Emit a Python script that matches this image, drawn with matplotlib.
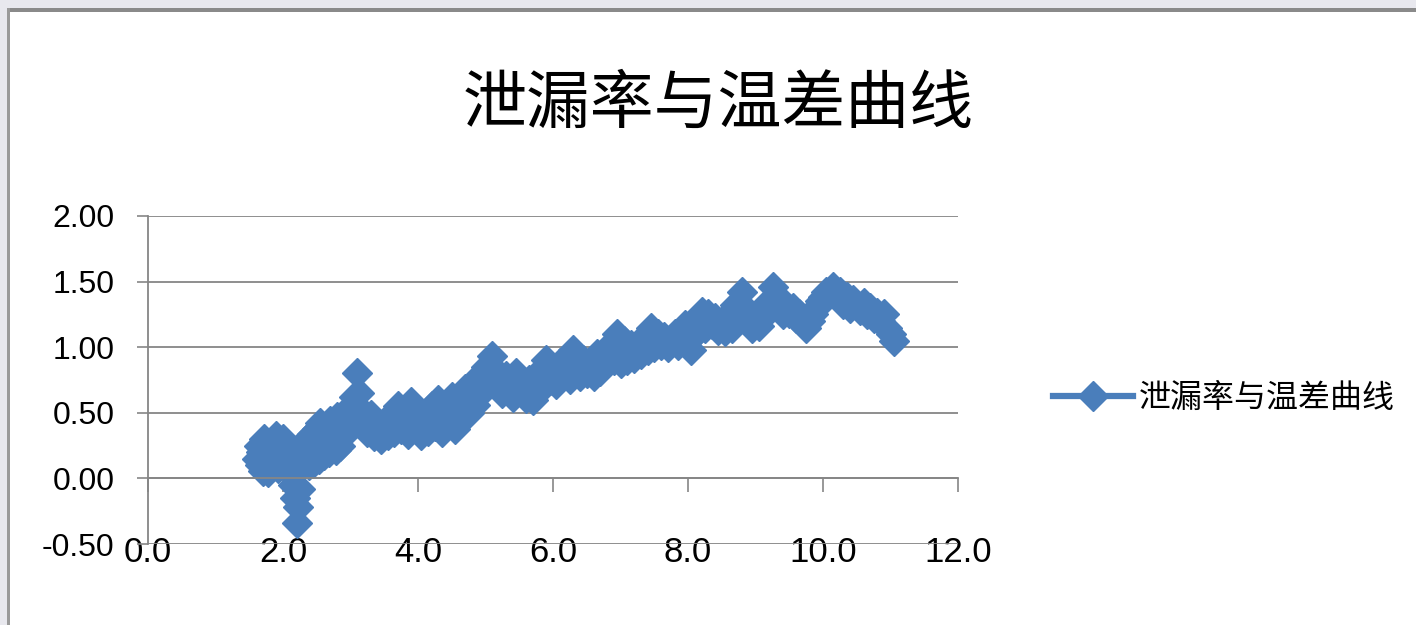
import matplotlib
matplotlib.use("Agg")
import matplotlib.pyplot as plt
from matplotlib.patches import Rectangle

plt.rcParams['font.family'] = ['Noto Sans CJK SC', 'DejaVu Sans']

TITLE = "泄漏率与温差曲线"
SERIES_NAME = "泄漏率与温差曲线"

# temperature difference (x) and leak rate (y)
temp_diff = [
    1.62, 1.64, 1.66, 1.68, 1.70, 1.72, 1.75, 1.78, 1.80, 1.82, 1.85, 1.88,
    1.90, 1.92, 1.95, 1.98, 2.00, 2.02, 2.05, 2.08, 2.10, 2.12,
    2.15, 2.18, 2.20, 2.22, 2.25, 2.28, 2.30,
    2.33, 2.35, 2.38, 2.40, 2.43, 2.45, 2.48, 2.50, 2.53, 2.55, 2.58, 2.60,
    2.63, 2.65, 2.68, 2.70, 2.73, 2.75, 2.78, 2.80, 2.83, 2.85, 2.88, 2.90,
    2.95, 3.00, 3.05, 3.10, 3.12, 3.15,
    3.20, 3.25, 3.30, 3.35, 3.40, 3.45, 3.50, 3.55, 3.60,
    3.65, 3.70, 3.75, 3.80, 3.85, 3.90, 3.95, 4.00, 4.05, 4.10, 4.15, 4.20,
    4.25, 4.30, 4.35, 4.40, 4.45, 4.50, 4.55, 4.60, 4.65, 4.70,
    4.75, 4.80, 4.85, 4.90, 4.95, 5.00, 5.05, 5.10, 5.15,
    5.20, 5.25, 5.30, 5.35, 5.40, 5.45, 5.50, 5.55, 5.60, 5.65, 5.70,
    5.75, 5.80, 5.85, 5.90, 5.95, 6.00, 6.05, 6.10, 6.15, 6.20, 6.25, 6.30,
    6.35, 6.40, 6.45, 6.50, 6.55, 6.60, 6.65, 6.70, 6.75, 6.80, 6.85, 6.90,
    6.95, 7.00,
    7.05, 7.10, 7.15, 7.20, 7.25, 7.30, 7.35, 7.40, 7.45, 7.50,
    7.55, 7.60, 7.65, 7.70, 7.75, 7.80, 7.85, 7.90, 7.95, 8.00, 8.05, 8.10,
    8.15, 8.20, 8.25, 8.30, 8.35, 8.40, 8.45, 8.50, 8.55, 8.60, 8.65, 8.70,
    8.75, 8.80, 8.85,
    8.90, 8.95, 9.00, 9.05, 9.10, 9.15, 9.20, 9.26, 9.30,
    9.35, 9.40, 9.45, 9.50, 9.55, 9.60, 9.65, 9.70, 9.75, 9.80, 9.85, 9.90,
    9.95, 10.00, 10.05, 10.15,
    10.20, 10.25, 10.30, 10.35, 10.40, 10.45, 10.50, 10.55, 10.60, 10.65,
    10.70, 10.75, 10.80, 10.85, 10.90, 10.95, 11.00, 11.05,
]
leak_rate = [
    0.15, 0.25, 0.10, 0.20, 0.06, 0.30, 0.12, 0.05, 0.22, 0.28, 0.10, 0.18,
    0.32, 0.08, 0.25, 0.12, 0.30, 0.20, 0.08, 0.24, 0.14, 0.05,
    -0.05, -0.15, -0.34, -0.22, -0.08, 0.10, 0.22,
    0.12, 0.30, 0.10, 0.22, 0.34, 0.12, 0.28, 0.38, 0.15, 0.42, 0.25, 0.18,
    0.40, 0.30, 0.20, 0.44, 0.26, 0.35, 0.22, 0.47, 0.30, 0.25, 0.40, 0.45,
    0.35, 0.55, 0.62, 0.80, 0.65, 0.52,
    0.45, 0.35, 0.48, 0.32, 0.42, 0.30, 0.40, 0.33, 0.48,
    0.35, 0.55, 0.38, 0.50, 0.34, 0.58, 0.40, 0.52, 0.33, 0.45, 0.36, 0.55,
    0.40, 0.60, 0.35, 0.55, 0.42, 0.62, 0.38, 0.58, 0.45, 0.68,
    0.50, 0.72, 0.56, 0.78, 0.66, 0.85, 0.76, 0.93, 0.82,
    0.72, 0.65, 0.78, 0.68, 0.62, 0.80, 0.70, 0.74, 0.61, 0.75, 0.60,
    0.68, 0.82, 0.70, 0.90, 0.75, 0.82, 0.72, 0.88, 0.78, 0.85, 0.76, 0.98,
    0.85, 0.78, 0.90, 0.80, 0.87, 0.78, 0.95, 0.82, 0.92, 0.88, 1.02, 0.90,
    1.10, 0.88,
    1.05, 0.90, 1.02, 0.92, 1.00, 0.95, 1.08, 0.98, 1.15, 1.00,
    1.10, 1.02, 1.08, 1.00, 1.05, 1.10, 1.02, 1.12, 1.17, 1.05, 0.98, 1.10,
    1.20, 1.27, 1.15, 1.25, 1.18, 1.22, 1.13, 1.20, 1.12, 1.23, 1.15, 1.32,
    1.25, 1.42, 1.30,
    1.22, 1.15, 1.20, 1.16, 1.22, 1.28, 1.35, 1.46, 1.38,
    1.30, 1.25, 1.32, 1.26, 1.30, 1.22, 1.25, 1.18, 1.15, 1.20, 1.25, 1.30,
    1.35, 1.38, 1.42, 1.46,
    1.38, 1.42, 1.33, 1.38, 1.30, 1.36, 1.32, 1.28, 1.34, 1.25,
    1.30, 1.22, 1.26, 1.20, 1.25, 1.15, 1.10, 1.05,
]

x_ticks = [0, 2, 4, 6, 8, 10, 12]
y_ticks = [-0.5, 0.0, 0.5, 1.0, 1.5, 2.0]

BLUE = '#4a7ebb'
GRID = '#868686'
W, H = 1416, 625
NUM_FONT = ['Liberation Sans', 'DejaVu Sans']

fig = plt.figure(figsize=(W / 100, H / 100), dpi=100, facecolor='white')

# screenshot frame: light strip and gray border at top and left
fig.add_artist(Rectangle((0, 1 - 8 / H), 1, 8 / H, transform=fig.transFigure,
                         facecolor='#e8e8ee', edgecolor='none'))
fig.add_artist(Rectangle((0, 0), 7 / W, 1, transform=fig.transFigure,
                         facecolor='#e8e8ee', edgecolor='none'))
fig.add_artist(Rectangle((7 / W, 1 - 12 / H), 1, 4 / H, transform=fig.transFigure,
                         facecolor='#8a8a8a', edgecolor='none'))
fig.add_artist(Rectangle((7 / W, 0), 3 / W, 1 - 8 / H, transform=fig.transFigure,
                         facecolor='#9a9a9a', edgecolor='none'))

ax = fig.add_axes([148 / W, 1 - 544 / H, (958 - 148) / W, (544 - 216) / H])
ax.plot(temp_diff, leak_rate, color=BLUE, lw=4.5, marker='D', markersize=15,
        markeredgecolor=BLUE, label=SERIES_NAME, solid_joinstyle='round')

ax.set_xlim(0, 12)
ax.set_ylim(-0.5, 2.0)
ax.set_yticks(y_ticks)
ax.set_yticklabels([f"{v:.2f}" for v in y_ticks])
ax.set_xticks(x_ticks)
ax.grid(axis='y', color=GRID, lw=1.3)
ax.set_axisbelow(True)

for s in ['top', 'right']:
    ax.spines[s].set_visible(False)
ax.spines['left'].set_color(GRID)
ax.spines['left'].set_linewidth(1.3)
ax.spines['bottom'].set_position(('data', 0))
ax.spines['bottom'].set_color(GRID)
ax.spines['bottom'].set_linewidth(1.3)

ax.tick_params(axis='y', direction='out', length=8, width=1.2, color=GRID,
               pad=16, labelsize=23)
for t in ax.get_yticklabels():
    t.set_family(NUM_FONT)
ax.tick_params(axis='x', direction='out', length=10, width=1.2, color=GRID,
               labelbottom=False)

# x labels sit at the bottom of the plot, not on the zero line
sec = ax.secondary_xaxis(0.025)
sec.set_xticks(x_ticks)
sec.set_xticklabels([f"{v:.1f}" for v in x_ticks])
sec.tick_params(length=0, pad=0, labelsize=25)
sec.spines['bottom'].set_visible(False)
for t in sec.get_xticklabels():
    t.set_family(NUM_FONT)

fig.text(718 / W, 1 - 105 / H, TITLE, ha='center', va='center', fontsize=46,
         color='black')

fig.legend(loc='center left', bbox_to_anchor=(1040 / W, 1 - 398 / H),
           frameon=False, fontsize=23, handlelength=2.5, handletextpad=0.2,
           borderaxespad=0)

fig.savefig('out.png', dpi=100, facecolor=fig.get_facecolor())
